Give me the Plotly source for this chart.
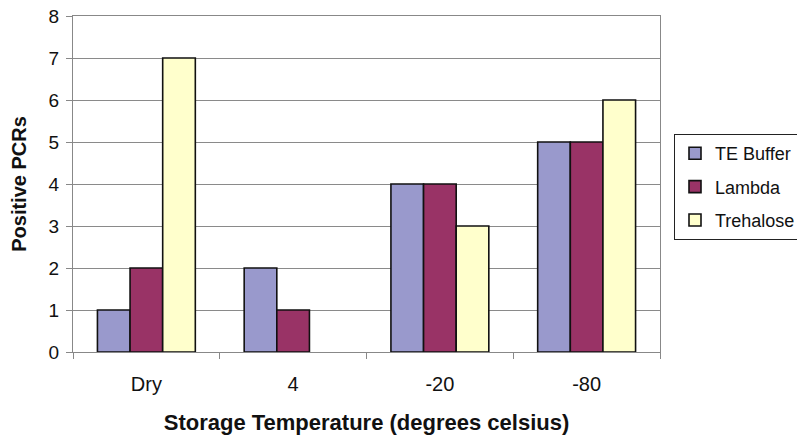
import plotly.graph_objects as go

categories = ["Dry", "4", "-20", "-80"]
te_buffer = [1, 2, 4, 5]
lambda_vals = [2, 1, 4, 5]
trehalose = [7, 0, 3, 6]

series = [
    ("TE Buffer", te_buffer, "#9999CC"),
    ("Lambda", lambda_vals, "#993366"),
    ("Trehalose", trehalose, "#FFFFCC"),
]

fig = go.Figure()
for name, vals, color in series:
    # zero-height bars get no outline so no flat stroke sits on the axis
    widths = [1.6 if v > 0 else 0 for v in vals]
    fig.add_trace(go.Bar(
        x=categories, y=vals, name=name, legendgroup=name,
        marker=dict(color=color, line=dict(color="#111111", width=widths)),
    ))

font_family = "Liberation Sans, Arial, sans-serif"
W, H = 797, 439
fig.update_layout(
    width=W, height=H,
    margin=dict(l=73, r=137, t=16, b=87, autoexpand=False),
    paper_bgcolor="white", plot_bgcolor="white",
    barmode="group", bargap=0.333, bargroupgap=0,
    font=dict(family=font_family, color="#111111", size=18),
    showlegend=True,
    legend=dict(
        xref="container", yref="container",
        x=674 / W, y=1 - 134 / H, xanchor="left", yanchor="top",
        bordercolor="#222222", borderwidth=1, bgcolor="white",
        font=dict(size=18), tracegroupgap=7, itemwidth=30,
    ),
    xaxis=dict(
        type="category", tickson="boundaries", ticks="outside", ticklen=6,
        tickcolor="#888888", showline=True, linecolor="#888888", linewidth=1,
        mirror=True, showgrid=False, tickfont=dict(size=20),
        ticklabelstandoff=14,
        title=dict(text="<b>Storage Temperature (degrees celsius)</b>",
                   font=dict(size=22), standoff=20),
    ),
    yaxis=dict(
        range=[0, 8], dtick=1, ticks="outside", ticklen=6, tickcolor="#888888",
        showline=True, linecolor="#888888", linewidth=1, mirror=True,
        showgrid=True, gridcolor="#8a8a8a", gridwidth=1, zeroline=False,
        tickfont=dict(size=19), ticklabelstandoff=3,
        title=dict(text="<b>Positive PCRs</b>", font=dict(size=20), standoff=16),
    ),
)

fig.write_html("out.html")
